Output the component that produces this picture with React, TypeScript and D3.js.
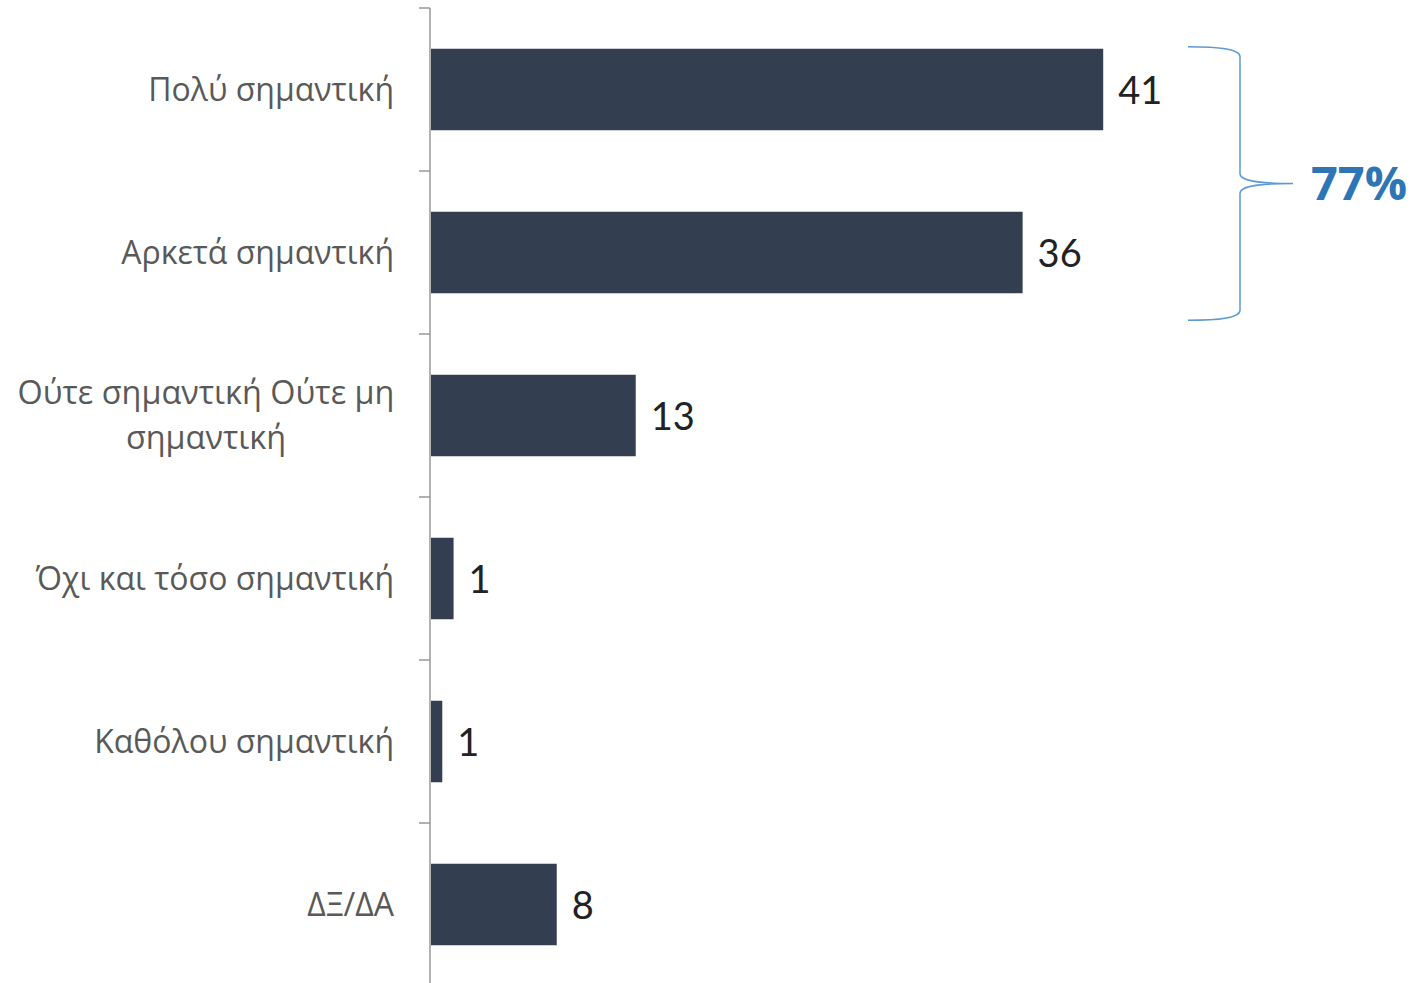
import React from "react";
import * as d3 from "d3";

const categories: string[][] = [
  ["Πολύ σημαντική"],
  ["Αρκετά σημαντική"],
  ["Ούτε σημαντική Ούτε μη", "σημαντική"],
  ["Όχι και τόσο σημαντική"],
  ["Καθόλου σημαντική"],
  ["ΔΞ/ΔΑ"],
];
const values: number[] = [41.7, 36.7, 12.7, 1.4, 0.7, 7.8];
const valueLabels: string[] = ["41", "36", "13", "1", "1", "8"];
const bracketLabel = "77%";

const W = 1415;
const H = 983;

export default function App() {
  const axisX = 430;
  const x = d3.scaleLinear().domain([0, 50]).range([axisX, axisX + 806]);
  const y = d3
    .scaleBand<number>()
    .domain(d3.range(categories.length))
    .range([8, 986])
    .paddingInner(0.5)
    .paddingOuter(0.25);
  const step = y.step();
  const bw = y.bandwidth();
  const bandStart = (i: number) => 8 + i * step;

  // brace
  const bTop = (y(0) as number) - 2;
  const bBot = (y(1) as number) + bw + 27;
  const bMid = (bTop + bBot) / 2;
  const bx0 = 1188;
  const bx1 = 1240;
  const bx2 = 1293;
  const bracePath = [
    `M${bx0},${bTop}`,
    `C${bx0 + 30},${bTop} ${bx1},${bTop + 2} ${bx1},${bTop + 10}`,
    `L${bx1},${bMid - 10}`,
    `C${bx1},${bMid - 2} ${bx1 + 20},${bMid} ${bx2},${bMid}`,
    `C${bx1 + 20},${bMid} ${bx1},${bMid + 2} ${bx1},${bMid + 10}`,
    `L${bx1},${bBot - 10}`,
    `C${bx1},${bBot - 2} ${bx0 + 30},${bBot} ${bx0},${bBot}`,
  ].join(" ");

  return (
    <svg
      width={W}
      height={H}
      style={{ position: "absolute", left: 0, top: 0, background: "#fff" }}
    >
      {/* axis */}
      <line x1={axisX} x2={axisX} y1={8} y2={H} stroke="#999" strokeWidth={1.5} />
      {d3.range(categories.length).map((i) => (
        <line
          key={"t" + i}
          x1={axisX - 11}
          x2={axisX}
          y1={bandStart(i)}
          y2={bandStart(i)}
          stroke="#999"
          strokeWidth={1.5}
        />
      ))}
      {values.map((v, i) => {
        const cy = (y(i) as number) + bw / 2;
        return (
          <g key={i}>
            <rect
              x={x(0) + 1}
              y={y(i) as number}
              width={x(v) - x(0)}
              height={bw}
              fill="#333E50"
            />
            <text
              x={x(v) + 16}
              y={cy + 1}
              dy="0.36em"
              fontFamily="Lato, 'Open Sans', sans-serif"
              fontSize={38}
              fill="#222"
            >
              {valueLabels[i]}
            </text>
          </g>
        );
      })}
      {categories.map((lines, i) => {
        const cy = (y(i) as number) + bw / 2;
        const lh = 45;
        const n = lines.length;
        if (n === 1) {
          return (
            <text
              key={"c" + i}
              x={394}
              y={cy}
              dy="0.35em"
              textAnchor="end"
              fontFamily="'Open Sans', sans-serif"
              fontSize={32}
              fill="#595959"
            >
              {lines[0]}
            </text>
          );
        }
        return (
          <text
            key={"c" + i}
            x={206}
            y={cy - ((n - 1) * lh) / 2}
            textAnchor="middle"
            fontFamily="'Open Sans', sans-serif"
            fontSize={32.4}
            fill="#595959"
          >
            {lines.map((l, j) => (
              <tspan key={j} x={206} dy={j === 0 ? "0.35em" : lh}>
                {l}
              </tspan>
            ))}
          </text>
        );
      })}
      <path d={bracePath} fill="none" stroke="#5B9BD5" strokeWidth={1.5} />
      <text
        x={1311}
        y={bMid}
        dy="0.36em"
        fontFamily="'Open Sans', sans-serif"
        fontWeight="bold"
        fontSize={47}
        fill="#2E75B6"
      >
        {bracketLabel}
      </text>
    </svg>
  );
}
